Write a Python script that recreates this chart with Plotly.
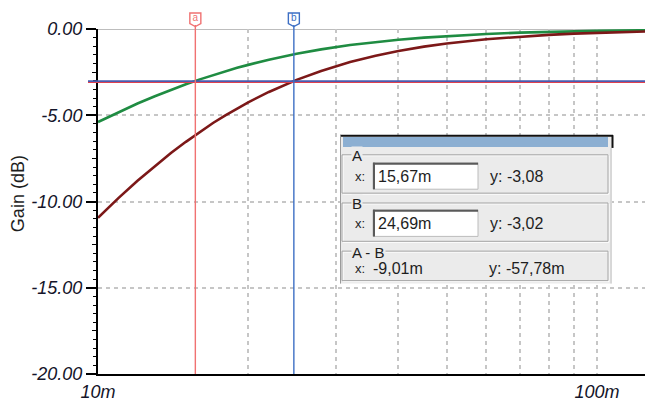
import math
import plotly.graph_objects as go

# ---- data -------------------------------------------------------------
x_ms = [10, 11, 12, 13, 14, 15, 16, 17, 18, 19, 20, 22, 25, 28, 32, 36,
        40, 45, 50, 60, 70, 80, 90, 100, 125]
gain_green = [-5.39, -4.81, -4.32, -3.90, -3.53, -3.20, -2.92, -2.67, -2.45,
              -2.25, -2.08, -1.78, -1.44, -1.18, -0.93, -0.75, -0.62, -0.50,
              -0.41, -0.29, -0.21, -0.16, -0.13, -0.11, -0.07]
gain_red = [-10.94, -9.79, -8.80, -7.94, -7.19, -6.54, -5.96, -5.45, -5.01,
            -4.61, -4.25, -3.65, -2.95, -2.43, -1.91, -1.55, -1.27, -1.02,
            -0.84, -0.59, -0.44, -0.34, -0.27, -0.22, -0.14]

cursor_names = ["a", "b"]
cursor_x = [15.67, 24.69]
cursor_y = [-3.08, -3.02]
cursor_colors = ["#f07272", "#3d6fc4"]
level_colors = ["#e0404e", "#4a5cb0"]
delta_text = ["-9,01m", "-57,78m"]

y_ticks = [0, -5, -10, -15, -20]
y_ticktext = ["0.00", "-5.00", "-10.00", "-15.00", "-20.00"]
y_mid_ticks = [-2.5, -7.5, -12.5, -17.5]
x_ticks = [10, 20, 30, 40, 50, 60, 70, 80, 90, 100]
x_ticktext = ["10m", "", "", "", "", "", "", "", "", "100m"]
x_range = [10, 124.8]

# ---- layout geometry --------------------------------------------------
W, H = 646, 403
ML, MR, MT, MB = 98, 1, 29, 23
PW, PH = W - ML - MR, H - MT - MB


def px(X):
    return (X - ML) / PW


def py(Y):
    return (H - MB - Y) / PH


fig = go.Figure()

fig.add_trace(go.Scatter(x=x_ms, y=gain_green, mode="lines",
                         line=dict(color="#1f8c42", width=2.6),
                         showlegend=False, hoverinfo="skip"))
fig.add_trace(go.Scatter(x=x_ms, y=gain_red, mode="lines",
                         line=dict(color="#7c1818", width=2.6),
                         showlegend=False, hoverinfo="skip"))
# invisible trace for the second y axis carrying the mid ticks
fig.add_trace(go.Scatter(x=[x_ms[0]], y=[0], yaxis="y2", mode="markers",
                         marker=dict(opacity=0), showlegend=False,
                         hoverinfo="skip"))

shapes = []
annotations = []

# solid top line at 0 dB
shapes.append(dict(type="line", xref="paper", yref="y", x0=0, x1=1, y0=0, y1=0,
                   line=dict(color="#bdbdbd", width=2), layer="below"))

# cursor levels (horizontal) and cursor positions (vertical)
for cy, col in zip(cursor_y, level_colors):
    shapes.append(dict(type="line", xref="paper", yref="y", x0=px(88), x1=1,
                       y0=cy, y1=cy, line=dict(color=col, width=1.6)))
for name, cx, col in zip(cursor_names, cursor_x, cursor_colors):
    shapes.append(dict(type="line", xref="x", yref="paper", x0=cx, x1=cx,
                       y0=0, y1=1 + 4 / PH, line=dict(color=col, width=1.4)))
    # flag box drawn under the traces so the letter trace shows on top
    shapes.append(dict(type="path", xref="x", yref="paper",
                       xsizemode="pixel", ysizemode="pixel",
                       xanchor=cx, yanchor=1, layer="below",
                       path="M -5.5,16 L 5.5,16 L 5.5,5.5 L 0,2.5 L -5.5,5.5 Z",
                       fillcolor="white", line=dict(color=col, width=1.4)))

# cursor letters sitting in the flag boxes above the plot
fig.add_trace(go.Scatter(x=cursor_x, y=[0, 0], mode="markers+text",
                         text=cursor_names, textposition="top center",
                         marker=dict(size=8, opacity=0),
                         textfont=dict(family="Liberation Sans", size=10,
                                       color=cursor_colors),
                         cliponaxis=False, showlegend=False,
                         hoverinfo="skip"))

# ---- cursor readout panel --------------------------------------------
def rect(x0, y0, x1, y1, fill=None, line=None, width=1):
    d = dict(type="rect", xref="paper", yref="paper",
             x0=px(x0), x1=px(x1), y0=py(y1), y1=py(y0))
    d["fillcolor"] = fill if fill else "rgba(0,0,0,0)"
    d["line"] = dict(color=line, width=width) if line else dict(width=0)
    return d


def seg(x0, y0, x1, y1, col, width=1):
    return dict(type="line", xref="paper", yref="paper",
                x0=px(x0), x1=px(x1), y0=py(y0), y1=py(y1),
                line=dict(color=col, width=width))


def label(X, Y, text, size=15, anchor="left", bg=None):
    d = dict(x=px(X), y=py(Y), xref="paper", yref="paper", text=text,
             showarrow=False, xanchor=anchor, yanchor="middle",
             font=dict(family="Liberation Sans", size=size, color="#1e1e1e"))
    if bg:
        d["bgcolor"] = bg
        d["borderpad"] = 0
    return d


panel_bg = "#ebebeb"
shapes.append(rect(340, 137, 612, 288, fill=panel_bg))
shapes.append(seg(340, 137.5, 613, 137.5, "#111111", 2))
shapes.append(seg(612.5, 137, 612.5, 150, "#111111", 2))
shapes.append(seg(611, 150, 611, 288, "#c4c4c4", 1))
shapes.append(seg(340.5, 137, 340.5, 288, "#9a9a9a", 1))
shapes.append(rect(343, 139, 608, 149, fill="#8cafd2"))

groups = [(157, 196), (206, 245), (255, 285)]
for (g0, g1) in groups:
    shapes.append(rect(343, g0 + 1, 609, g1 + 1, line="#ffffff", width=1))
    shapes.append(rect(342, g0, 608, g1, line="#a4a4a4", width=1))

group_titles = ["A", "B", "A - B"]
for (g0, _), t in zip(groups, group_titles):
    annotations.append(label(351, g0 + 1, t, size=15, bg=panel_bg))

# input boxes for the cursor positions
boxes = [(165, 192), (213, 240)]
for (b0, b1) in boxes:
    shapes.append(rect(373, b0, 478, b1, fill="white", line="#bcbcbc", width=1))
    shapes.append(seg(373, b0 + 1, 478, b0 + 1, "#5a5a5a", 2))
    shapes.append(seg(374, b0, 374, b1, "#5a5a5a", 2))


def fmt(v):
    return f"{v:.2f}".replace(".", ",")


rows_y = [179, 227, 273]
for i, cx in enumerate(cursor_x):
    annotations.append(label(353, rows_y[i], "x:", size=13))
    annotations.append(label(376, rows_y[i], fmt(cx) + "m", size=16))
    annotations.append(label(488, rows_y[i], "y: " + fmt(cursor_y[i]), size=16))
annotations.append(label(353, rows_y[2], "x:", size=13))
annotations.append(label(371, rows_y[2], delta_text[0], size=16))
annotations.append(label(487, rows_y[2], "y: " + delta_text[1], size=16))

# axis title
annotations.append(dict(x=px(18), y=py(197), xref="paper", yref="paper",
                        xanchor="center", yanchor="middle",
                        text="Gain (dB)", textangle=-90, showarrow=False,
                        font=dict(family="Liberation Sans", size=18,
                                  color="#1e1e1e")))

tick_font = dict(family="Liberation Sans", size=18, color="#15152a",
                 style="italic")

fig.update_layout(
    width=W, height=H,
    margin=dict(l=ML, r=MR, t=MT, b=MB, pad=0),
    paper_bgcolor="white", plot_bgcolor="white",
    showlegend=False,
    xaxis=dict(type="log", range=[math.log10(x_range[0]), math.log10(x_range[1])],
               tickvals=x_ticks, ticktext=x_ticktext, ticks="",
               tickfont=tick_font, showgrid=True, gridcolor="#c6c6c6",
               gridwidth=1.5, griddash="4px,4px", zeroline=False,
               showline=True, linecolor="black", linewidth=2,
               fixedrange=True),
    yaxis=dict(range=[-20, 0], tickvals=y_ticks, ticktext=y_ticktext,
               ticks="outside", ticklen=10, tickwidth=2, tickcolor="black",
               tickfont=tick_font, showgrid=True, gridcolor="#c6c6c6",
               gridwidth=1.5, griddash="4px,4px", zeroline=False,
               showline=True, linecolor="black", linewidth=2,
               minor=dict(dtick=0.5, tick0=0, ticks="outside", ticklen=3,
                          tickwidth=1.2, tickcolor="black", showgrid=False),
               fixedrange=True),
    yaxis2=dict(range=[-20, 0], overlaying="y", side="left",
                tickvals=y_mid_ticks, ticks="outside", ticklen=5,
                tickwidth=1.4, tickcolor="black", showticklabels=False,
                showgrid=False, zeroline=False, showline=False,
                fixedrange=True),
    shapes=shapes,
    annotations=annotations,
)

fig.write_html("out.html")
